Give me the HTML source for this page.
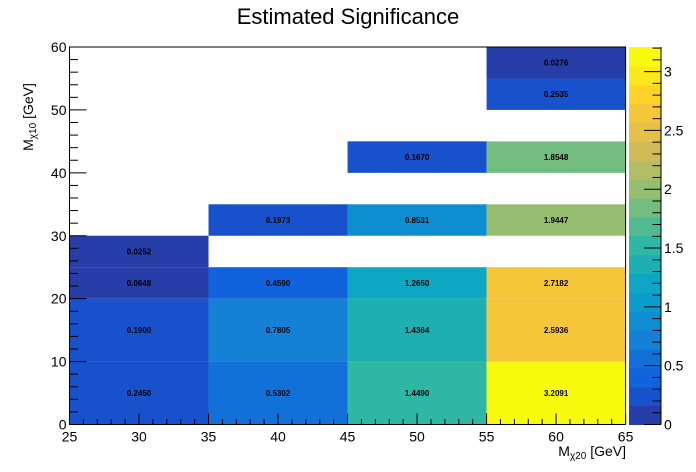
<!DOCTYPE html>
<html><head><meta charset="utf-8"><style>
body{margin:0;background:#fff;}
svg{display:block;font-family:"Liberation Sans",sans-serif;}
</style></head><body>
<svg id="chart" width="696" height="472">
<text x="348" y="24" text-anchor="middle" font-size="22">Estimated Significance</text>
<g id="cells"></g>
<g id="axes"></g>
<g id="cbar"></g>
<text x="626" y="456" text-anchor="end" font-size="14">M<tspan font-size="10" dy="3">χ20</tspan><tspan dy="-3"> [GeV]</tspan></text>
<text transform="translate(33,117) rotate(-90)" text-anchor="middle" font-size="14">M<tspan font-size="10" dy="3">χ10</tspan><tspan dy="-3"> [GeV]</tspan></text>
</svg>
<script>
const xEdges=[25,35,45,55,65];
const yEdges=[0,10,20,25,30,35,40,45,50,55,60];
const cellX=[0,0,0,0, 1,1,1,1, 2,2,2,2,2, 3,3,3,3,3,3,3];
const cellY=[0,1,2,3, 0,1,2,4, 0,1,2,4,6, 0,1,2,4,6,8,9];
const cellV=[0.2450,0.1900,0.0648,0.0252, 0.5302,0.7805,0.4590,0.1973, 1.4490,1.4364,1.2650,0.8531,0.1670, 3.2091,2.5936,2.7182,1.9447,1.8548,0.2535,0.0276];
const xTicks=[25,30,35,40,45,50,55,60,65];
const yTicks=[0,10,20,30,40,50,60];
const zTicks=[0,0.5,1,1.5,2,2.5,3];
const zMax=3.2091, nLev=20;
const L=69.5,R=625.6,T=47,B=424.5;
const sx=v=>L+(v-25)/40*(R-L);
const sy=v=>B-(v/60)*(B-T);
const CT=47,CB=424.5,sz=v=>CB-v/zMax*(CB-CT);
const stR=[0.2082,0.0592,0.0780,0.0232,0.1802,0.5301,0.8186,0.9956,0.9764];
const stG=[0.1664,0.3599,0.5041,0.6419,0.7178,0.7492,0.7328,0.7862,0.9832];
const stB=[0.5293,0.8684,0.8385,0.7914,0.6425,0.4662,0.3499,0.1968,0.0539];
function bird(f){f=Math.max(0,Math.min(1,f));const p=f*8,i=Math.min(7,Math.floor(p)),t=p-i;
const c=a=>Math.round(255*(a[i]+(a[i+1]-a[i])*t));return `rgb(${c(stR)},${c(stG)},${c(stB)})`;}
function levCol(i){return bird(Math.floor((i+0.99)*255/nLev)/254);}
function lev(v){return Math.min(nLev-1,Math.floor(0.01+v/zMax*nLev));}
function col(v){return levCol(lev(v));}
const NS='http://www.w3.org/2000/svg';
function mk(p,tag,attrs,txt){const e=document.createElementNS(NS,tag);for(const k in attrs)e.setAttribute(k,attrs[k]);if(txt!==undefined)e.textContent=txt;p.appendChild(e);return e;}
const cg=document.getElementById('cells');
cellV.forEach((v,i)=>{
 const x0=sx(xEdges[cellX[i]]),x1=sx(xEdges[cellX[i]+1]),y0=sy(yEdges[cellY[i]+1]),y1=sy(yEdges[cellY[i]]);
 const r=mk(cg,'rect',{x:x0,y:y0,width:x1-x0,height:y1-y0,fill:col(v)});
 
 
 const t=mk(cg,'text',{x:(x0+x1)/2,y:(y0+y1)/2+3,'text-anchor':'middle','font-size':'8','font-weight':'bold'},v.toFixed(4));
 
 
});
const ag=document.getElementById('axes');
mk(ag,'rect',{x:L,y:T,width:R-L,height:B-T,fill:'none',stroke:'#000','stroke-width':1});
for(let v=25;v<=65;v+=1){const x=sx(v);const big=v%5===0;mk(ag,'line',{x1:x,x2:x,y1:B,y2:B-(big?11:5.5),stroke:'#000'});}
xTicks.forEach(v=>{const t=mk(ag,'text',{x:sx(v),y:B+17,'text-anchor':'middle','font-size':'14'},v);
 
 });
for(let v=0;v<=60;v+=2){const y=sy(v);const big=v%10===0;mk(ag,'line',{x1:L,x2:L+(big?17:8.5),y1:y,y2:y,stroke:'#000'});}
yTicks.forEach(v=>{const t=mk(ag,'text',{x:L-3,y:sy(v)+5,'text-anchor':'end','font-size':'14'},v);
 
 });
const zg=document.getElementById('cbar');
const CL=629,CR=661;
for(let i=0;i<nLev;i++){const v0=i*zMax/nLev,v1=(i+1)*zMax/nLev;
 const r=mk(zg,'rect',{x:CL,y:sz(v1),width:CR-CL,height:sz(v0)-sz(v1)+0.5,fill:levCol(i)});
 
 }
mk(zg,'line',{x1:CR,x2:CR,y1:CT,y2:CB,stroke:'#000'});
for(let v=0;v<=zMax;v+=0.1){const y=sz(v);const big=Math.abs(v*2-Math.round(v*2))<1e-6;mk(zg,'line',{x1:CR,x2:CR-(big?17:8.5),y1:y,y2:y,stroke:'#000'});}
zTicks.forEach(v=>{const t=mk(zg,'text',{x:CR+3,y:sz(v)+5,'font-size':'14'},v);
 
 });
</script>
</body></html>
